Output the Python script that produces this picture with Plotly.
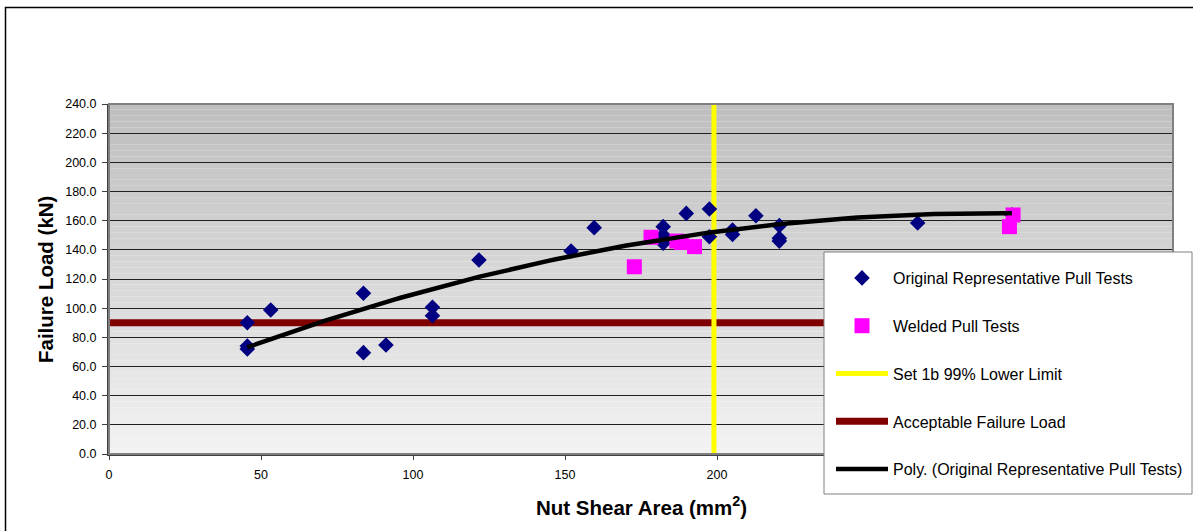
import numpy as np
import plotly.graph_objects as go

# ---------------- data ----------------
orig_x = [45.5, 45.5, 45.5, 53.2, 83.7, 83.7, 91.1, 106.4, 106.4, 121.7, 152.0, 159.6,
          182.3, 182.3, 182.3, 189.9, 197.5, 197.5, 205.1, 205.1, 212.8, 220.5, 220.5,
          220.5, 266.0, 297.0]
orig_y = [90.0, 74.0, 72.0, 98.7, 110.2, 69.5, 74.7, 100.6, 94.8, 133.0, 139.2, 155.2,
          155.9, 150.2, 144.5, 165.0, 168.0, 149.0, 153.6, 150.5, 163.4, 156.6, 148.0,
          146.0, 158.4, 164.0]

welded_x = [172.8, 178.3, 186.8, 188.3, 192.6, 296.2, 297.4]
welded_y = [128.4, 148.6, 146.0, 145.0, 142.2, 155.9, 163.9]

lower_limit_x = 199.0          # Set 1b 99% lower limit (vertical)
limit_y_span = [0, 240]
acceptable_load = 90.0         # acceptable failure load (horizontal)
load_x_span = [0, 350]

# tick labels beyond 200 sit under the legend box in the reference
x_ticks = [0, 50, 100, 150, 200]
y_ticks = [0, 20, 40, 60, 80, 100, 120, 140, 160, 180, 200, 220, 240]

# ---------------- polynomial trendline (order 2, like Excel) ----------------
coef = np.polyfit(orig_x, orig_y, 2)
trend_x = np.linspace(min(orig_x), max(orig_x), 120)
trend_y = np.polyval(coef, trend_x)

FONT = "Arial, Liberation Sans, sans-serif"

fig = go.Figure()

fig.add_trace(go.Scatter(
    x=load_x_span, y=[acceptable_load, acceptable_load], mode="lines",
    name="Acceptable Failure Load", line=dict(color="#800000", width=7),
    legendrank=4, legendgroup="d"))
fig.add_trace(go.Scatter(
    x=[lower_limit_x, lower_limit_x], y=limit_y_span, mode="lines",
    name="Set 1b 99% Lower Limit", line=dict(color="#ffff00", width=5),
    legendrank=3, legendgroup="c"))
fig.add_trace(go.Scatter(
    x=orig_x, y=orig_y, mode="markers", name="Original Representative Pull Tests",
    marker=dict(symbol="diamond", size=12, color="#000080"),
    legendrank=1, legendgroup="a"))
fig.add_trace(go.Scatter(
    x=welded_x, y=welded_y, mode="markers", name="Welded Pull Tests",
    marker=dict(symbol="square", size=15, color="#ff00ff"),
    legendrank=2, legendgroup="b"))
fig.add_trace(go.Scatter(
    x=trend_x, y=trend_y, mode="lines", name="Poly. (Original Representative Pull Tests)",
    line=dict(color="#000000", width=4.5),
    legendrank=5, legendgroup="e"))

# ---------------- gradient plot background ----------------
shapes = []
n = 60
for i in range(n):
    t = i / (n - 1)
    c = int(round(242 - (242 - 190) * t))
    shapes.append(dict(type="rect", xref="paper", yref="paper",
                       x0=0, x1=1, y0=i / n, y1=(i + 1) / n,
                       fillcolor=f"rgb({c},{c},{c})", line=dict(width=0),
                       layer="below"))
# plot-area border (top/right grey)
shapes.append(dict(type="rect", xref="paper", yref="paper", x0=0, x1=1, y0=0, y1=1,
                   line=dict(color="#808080", width=2), layer="above"))
# legend box
shapes.append(dict(type="rect", xref="paper", yref="paper",
                   x0=(824 - 109) / 1064, x1=(1192 - 109) / 1064,
                   y0=(454 - 494) / 350, y1=(454 - 252) / 350,
                   fillcolor="white", line=dict(color="#808080", width=1), layer="above"))
# outer chart frame
shapes.append(dict(type="rect", xref="paper", yref="paper",
                   x0=(5.5 - 109) / 1064, x1=(1200 - 109) / 1064,
                   y0=(454 - 540) / 350, y1=(454 - 7.5) / 350,
                   line=dict(color="#000000", width=1.5), layer="above"))

fig.update_layout(
    width=1193, height=531,
    margin=dict(l=109, r=20, t=104, b=77, autoexpand=False),
    paper_bgcolor="white", plot_bgcolor="rgba(0,0,0,0)",
    font=dict(family=FONT, color="black", size=12.5),
    shapes=shapes,
    showlegend=True,
    legend=dict(x=(831 - 109) / 1064, y=(454 - 261) / 350, xanchor="left", yanchor="top",
                bgcolor="rgba(0,0,0,0)", borderwidth=0,
                font=dict(family=FONT, size=16, color="black"),
                traceorder="grouped", tracegroupgap=24, itemwidth=52),
    annotations=[
        dict(text="<b>Failure Load (kN)</b>", xref="paper", yref="paper",
             x=(45 - 109) / 1064, y=(454 - 280) / 350, textangle=-90, showarrow=False,
             xanchor="center", yanchor="middle", font=dict(family=FONT, size=20.5)),
        dict(text="<b>Nut Shear Area (mm<sup>2</sup>)</b>", xref="paper", yref="paper",
             x=(641 - 109) / 1064, y=(454 - 506) / 350, showarrow=False,
             xanchor="center", yanchor="middle", font=dict(family=FONT, size=20.5)),
    ],
)
fig.update_xaxes(range=[0, 350], tickvals=x_ticks, ticks="outside", ticklen=4,
                 tickcolor="#404040", showline=True, linecolor="#404040", linewidth=2,
                 showgrid=False, zeroline=False, tickfont=dict(size=12.5),
                 ticklabelstandoff=4)
fig.update_yaxes(range=[0, 240], tickvals=y_ticks, tickformat=".1f", ticks="outside",
                 ticklen=5, tickcolor="#404040", showline=True, linecolor="#404040",
                 linewidth=2, showgrid=True, gridcolor="#202020", gridwidth=1,
                 zeroline=False, tickfont=dict(size=12.5), ticklabelstandoff=3)

fig.write_html("out.html")
